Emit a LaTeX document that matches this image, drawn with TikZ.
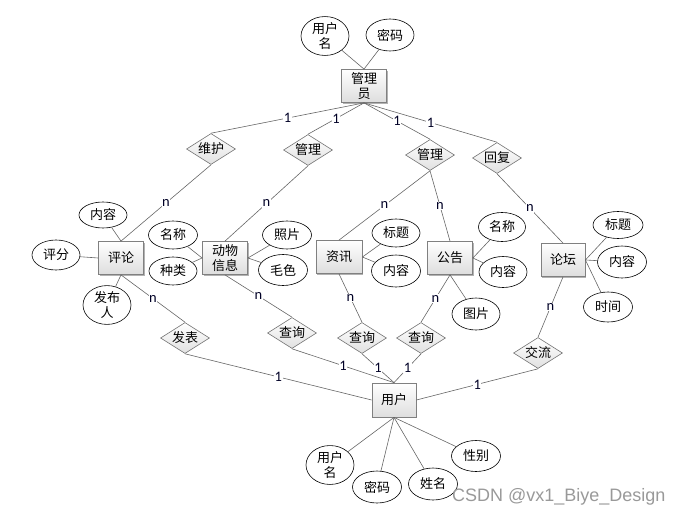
\documentclass[tikz,border=0pt]{standalone}
\usepackage{fontspec}
\setmainfont{Noto Sans CJK SC}
\newfontfamily\latinf{Carlito}
\newfontfamily\wmf{Liberation Sans}
\usetikzlibrary{shapes.geometric,shadows}
\begin{document}
\begin{tikzpicture}[x=1pt,y=-1pt,
  every node/.style={font=\fontsize{13}{15.5}\selectfont, align=center},
  entity/.style={rectangle, draw=black!50, line width=0.8pt, minimum width=45, minimum height=33, inner sep=0pt,
    top color=white, bottom color=black!13,
    drop shadow={shadow xshift=1.2pt, shadow yshift=-1.2pt, fill=black!30, opacity=1}},
  rel/.style={diamond, draw=black!55, line width=0.6pt, aspect=1.6, minimum width=49, minimum height=31, inner sep=0pt,
    top color=white, bottom color=black!12},
  attr/.style={ellipse, draw=black, line width=0.6pt, fill=white, minimum width=48, minimum height=29, inner sep=0pt},
  conn/.style={draw=black!60, line width=0.6pt},
  card/.style={font=\latinf\fontsize{14.5}{14.5}\selectfont, fill=white, inner sep=0.6pt, text=black!85!blue},
]
\useasboundingbox (0,0) rectangle (684,516);

% entities
\node[entity] (mgr) at (364,86) {管理\\员};
\node[entity] (epl) at (121,258) {评论};
\node[entity] (edw) at (225,258) {动物\\信息};
\node[entity, minimum width=46] (ezx) at (339,257) {资讯};
\node[entity] (egg) at (450,258) {公告};
\node[entity, minimum width=44] (elt) at (563,260) {论坛};
\node[entity, minimum width=44, minimum height=34] (eyh) at (394,400) {用户};

% relationships
\node[rel] (dwh) at (211,149) {维护};
\node[rel] (dgl1) at (308,150) {管理};
\node[rel] (dgl2) at (430,155) {管理};
\node[rel] (dhf) at (497,158) {回复};
\node[rel] (dfb) at (185,338) {发表};
\node[rel] (dcx1) at (292,333) {查询};
\node[rel] (dcx2) at (362,338) {查询};
\node[rel] (dcx3) at (421,338) {查询};
\node[rel] (djl) at (538,353) {交流};

% attributes
\node[attr, minimum height=34] (mun) at (325,36) {用户\\名};
\node[attr, minimum height=32] (mpw) at (390,35) {密码};

\node[attr, minimum height=26] (plnr) at (103,215) {内容};
\node[attr, minimum height=30] (plpf) at (56,255) {评分};
\node[attr, minimum height=34] (plfb) at (107,305) {发布\\人};
\node[attr, minimum width=49, minimum height=28] (dwmc) at (173,235) {名称};
\node[attr, minimum height=28] (dwzl) at (173,271) {种类};
\node[attr, minimum width=49, minimum height=28] (dwzp) at (287,235) {照片};
\node[attr, minimum width=49, minimum height=31] (dwms) at (283,270) {毛色};
\node[attr, minimum height=28] (zxbt) at (396,233) {标题};
\node[attr, minimum width=49, minimum height=32] (zxnr) at (396,271) {内容};
\node[attr, minimum width=47, minimum height=29] (ggmc) at (502,227) {名称};
\node[attr, minimum height=31] (ggnr) at (503,272) {内容};
\node[attr, minimum height=32] (ggtp) at (476,314) {图片};
\node[attr, minimum width=50, minimum height=27] (ltbt) at (618,225) {标题};
\node[attr, minimum width=49, minimum height=32] (ltnr) at (622,262) {内容};
\node[attr, minimum width=49, minimum height=30] (ltsj) at (608,307) {时间};

\node[attr, minimum height=32] (yun) at (330,465) {用户\\名};
\node[attr, minimum width=49, minimum height=32] (ypw) at (377,487) {密码};
\node[attr, minimum width=49, minimum height=32] (yxm) at (433,484) {姓名};
\node[attr, minimum width=49, minimum height=31] (yxb) at (476,456) {性别};

% attribute connectors
\draw[conn] (mun) -- (mgr.north);
\draw[conn] (mpw) -- (mgr.north);
\draw[conn] (plnr) -- (epl.north);
\draw[conn] (plpf) -- (epl.west);
\draw[conn] (plfb) -- (epl.south);
\draw[conn] (dwmc) -- (edw.west);
\draw[conn] (dwzl) -- (edw.west);
\draw[conn] (dwzp) -- (edw.east);
\draw[conn] (dwms) -- (edw.east);
\draw[conn] (zxbt) -- (ezx.east);
\draw[conn] (zxnr) -- (ezx.east);
\draw[conn] (ggmc) -- (egg.east);
\draw[conn] (ggnr) -- (egg.east);
\draw[conn] (ggtp) -- (egg.south);
\draw[conn] (ltbt) -- (elt.east);
\draw[conn] (ltnr) -- (elt.east);
\draw[conn] (ltsj) -- (elt.east);
\draw[conn] (yun) -- (eyh.south);
\draw[conn] (ypw) -- (eyh.south);
\draw[conn] (yxm) -- (eyh.south);
\draw[conn] (yxb) -- (eyh.south);

% relationship connectors
\draw[conn] (mgr.south) -- node[card]{1} (dwh.north);
\draw[conn] (mgr.south) -- node[card]{1} (dgl1.north);
\draw[conn] (mgr.south) -- node[card]{1} (dgl2.north);
\draw[conn] (mgr.south) -- node[card]{1} (dhf.north);
\draw[conn] (dwh.south) -- node[card]{n} (epl.north);
\draw[conn] (dgl1.south) -- node[card]{n} (edw.north);
\draw[conn] (dgl2.south) -- node[card]{n} (ezx.north);
\draw[conn] (dgl2.south) -- node[card]{n} (egg.north);
\draw[conn] (dhf.south) -- node[card]{n} (elt.north);

\draw[conn] (epl.south) -- node[card]{n} (dfb.north);
\draw[conn] (edw.south) -- node[card]{n} (dcx1.north);
\draw[conn] (ezx.south) -- node[card]{n} (dcx2.north);
\draw[conn] (egg.south) -- node[card]{n} (dcx3.north);
\draw[conn] (elt.south) -- node[card]{n} (djl.north);

\draw[conn] (dfb.south) -- node[card]{1} (eyh.west);
\draw[conn] (dcx1.south) -- node[card]{1} (eyh.north);
\draw[conn] (dcx2.south) -- node[card]{1} (eyh.north);
\draw[conn] (dcx3.south) -- node[card]{1} (eyh.north);
\draw[conn] (djl.south) -- node[card]{1} (eyh.east);

% watermark
\node[font=\wmf\fontsize{18}{18}\selectfont, text=black!40, anchor=east] (wm) at (669,497) {CSDN @vx1\_Biye\_Design};
\end{tikzpicture}
\end{document}
